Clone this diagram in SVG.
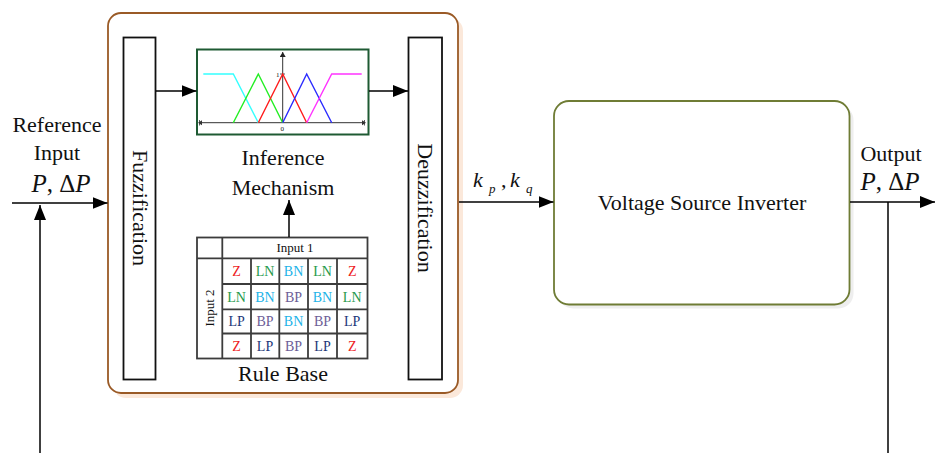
<svg xmlns="http://www.w3.org/2000/svg" width="935" height="453" viewBox="0 0 935 453" font-family="'Liberation Serif','Times New Roman',serif">
<defs>
<marker id="ah" markerUnits="userSpaceOnUse" markerWidth="16" markerHeight="12" refX="15" refY="6" orient="auto">
<path d="M0,0 L15,6 L0,12 z" fill="#000"/>
</marker>
<marker id="sa" markerUnits="userSpaceOnUse" markerWidth="6" markerHeight="6" refX="5" refY="3" orient="auto">
<path d="M0,0 L5,3 L0,6 z" fill="#222"/>
</marker>
<style>
text{font-family:"Liberation Serif","Times New Roman",serif;}
.t{fill:#111;}
.m{font-size:22px;text-anchor:middle;}
.ln{stroke:#000;stroke-width:1.5;fill:none;}
.blk{fill:#fff;stroke:#111;stroke-width:1.8;}
.grid{stroke:#3c3c3c;stroke-width:1.8;fill:none;}
.c{font-size:14px;text-anchor:middle;}
.Z{fill:#ee1c24;}.LN{fill:#1f9a4c;}.BN{fill:#1bb3e8;}.BP{fill:#6d5d97;}.LP{fill:#1d3779;}
</style>
</defs>
<rect width="935" height="453" fill="#fff"/>

<g id="controller">
<rect x="113" y="18" width="350" height="380" rx="13" fill="#fbe8da"/>
<rect x="108" y="13" width="350" height="380" rx="13" fill="#fff" stroke="#9a5a26" stroke-width="1.8"/>
</g>

<g id="fuzzification">
<rect class="blk" x="123.5" y="37.5" width="32" height="342"/>
<text class="t m" transform="translate(133,208) rotate(90)">Fuzzification</text>
</g>

<g id="deuzzification">
<rect class="blk" x="408.5" y="37.5" width="33.5" height="342"/>
<text class="t m" transform="translate(418,208) rotate(90)">Deuzzification</text>
</g>

<g id="inference">
<rect x="197" y="49.5" width="171.5" height="85" fill="#fff" stroke="#1e5a33" stroke-width="2"/>
<line x1="200" y1="122.7" x2="364" y2="122.7" stroke="#333" stroke-width="1"/>
<path d="M198,122.7 l4,-2.5 v5 z M366,122.7 l-4,-2.5 v5 z" fill="#333"/>
<line x1="199.5" y1="120" x2="199.5" y2="125.5" stroke="#333" stroke-width="0.8"/>
<line x1="364.5" y1="120" x2="364.5" y2="125.5" stroke="#333" stroke-width="0.8"/>
<line x1="282.7" y1="122.7" x2="282.7" y2="52" stroke="#333" stroke-width="1" marker-end="url(#sa)"/>
<line x1="280" y1="74" x2="285" y2="74" stroke="#333" stroke-width="0.8"/>
<text class="t" x="276" y="77" font-size="7">1</text>
<text class="t" x="280.5" y="131" font-size="7">0</text>
<polyline points="203.3,74 233.3,74 258.3,122.7" fill="none" stroke="#33ffff" stroke-width="1.4"/>
<polyline points="233.3,122.7 258.3,74 282.7,122.7" fill="none" stroke="#22ee22" stroke-width="1.4"/>
<polyline points="258.3,122.7 282.7,74 306.7,122.7" fill="none" stroke="#ff1a1a" stroke-width="1.4"/>
<polyline points="282.7,122.7 306.7,74 331.7,122.7" fill="none" stroke="#2a2aff" stroke-width="1.4"/>
<polyline points="306.7,122.7 331.7,74 361.7,74" fill="none" stroke="#ff33ff" stroke-width="1.4"/>
<text class="t m" x="283" y="165" font-size="21">Inference</text>
<text class="t m" x="283" y="195" font-size="21">Mechanism</text>
</g>

<g id="rulebase">
<rect class="grid" x="197" y="237.5" width="170.5" height="121"/>
<line class="grid" x1="222.3" y1="237.5" x2="222.3" y2="358.5"/>
<line class="grid" x1="197" y1="258.3" x2="367.5" y2="258.3"/>
<line class="grid" x1="251" y1="258.3" x2="251" y2="358.5"/>
<line class="grid" x1="279.3" y1="258.3" x2="279.3" y2="358.5"/>
<line class="grid" x1="308" y1="258.3" x2="308" y2="358.5"/>
<line class="grid" x1="337" y1="258.3" x2="337" y2="358.5"/>
<line class="grid" x1="222.3" y1="284" x2="367.5" y2="284"/>
<line class="grid" x1="222.3" y1="309.3" x2="367.5" y2="309.3"/>
<line class="grid" x1="222.3" y1="333.5" x2="367.5" y2="333.5"/>
<text class="t" x="295" y="252" font-size="13" text-anchor="middle">Input 1</text>
<text class="t" transform="translate(213.5,308) rotate(-90)" font-size="13" text-anchor="middle">Input 2</text>
<g class="c">
<text class="Z" x="236.6" y="276">Z</text><text class="LN" x="265" y="276">LN</text><text class="BN" x="293.6" y="276">BN</text><text class="LN" x="322.5" y="276">LN</text><text class="Z" x="352.2" y="276">Z</text>
<text class="LN" x="236.6" y="301.5">LN</text><text class="BN" x="265" y="301.5">BN</text><text class="BP" x="293.6" y="301.5">BP</text><text class="BN" x="322.5" y="301.5">BN</text><text class="LN" x="352.2" y="301.5">LN</text>
<text class="LP" x="236.6" y="326">LP</text><text class="BP" x="265" y="326">BP</text><text class="BN" x="293.6" y="326">BN</text><text class="BP" x="322.5" y="326">BP</text><text class="LP" x="352.2" y="326">LP</text>
<text class="Z" x="236.6" y="351">Z</text><text class="LP" x="265" y="351">LP</text><text class="BP" x="293.6" y="351">BP</text><text class="LP" x="322.5" y="351">LP</text><text class="Z" x="352.2" y="351">Z</text>
</g>
<text class="t m" x="283" y="381">Rule Base</text>
</g>

<g id="vsi">
<rect x="558" y="105" width="295.5" height="203.5" rx="15" fill="#eeeeee"/>
<rect x="554" y="101" width="295.5" height="203.5" rx="15" fill="#fff" stroke="#6f7c35" stroke-width="1.8"/>
<text class="t m" x="702" y="210">Voltage Source Inverter</text>
</g>

<g id="labels">
<text class="t m" x="57" y="132">Reference</text>
<text class="t m" x="57" y="160">Input</text>
<text class="t" x="61" y="192" font-size="25" text-anchor="middle"><tspan font-style="italic">P</tspan>, Δ<tspan font-style="italic">P</tspan></text>
<text class="t m" x="891" y="161">Output</text>
<text class="t" x="890" y="190" font-size="25" text-anchor="middle"><tspan font-style="italic">P</tspan>, Δ<tspan font-style="italic">P</tspan></text>
<text class="t" font-size="22" font-style="italic" x="473" y="187">k</text>
<text class="t" font-size="13" font-style="italic" x="489" y="193">p</text>
<text class="t" font-size="22" x="501" y="187">,</text>
<text class="t" font-size="22" font-style="italic" x="510" y="187">k</text>
<text class="t" font-size="13" font-style="italic" x="526" y="193">q</text>
</g>

<g id="connectors">
<line class="ln" x1="12" y1="203" x2="107.5" y2="203" marker-end="url(#ah)"/>
<line class="ln" x1="40" y1="453" x2="40" y2="205" marker-end="url(#ah)"/>
<line class="ln" x1="156" y1="91" x2="196.5" y2="91" marker-end="url(#ah)"/>
<line class="ln" x1="369" y1="91" x2="408" y2="91" marker-end="url(#ah)"/>
<line class="ln" x1="289" y1="237" x2="289" y2="200" marker-end="url(#ah)"/>
<line class="ln" x1="459" y1="202" x2="553.5" y2="202" marker-end="url(#ah)"/>
<line class="ln" x1="850" y1="202" x2="935" y2="202" marker-end="url(#ah)"/>
<line class="ln" x1="888" y1="202" x2="888" y2="453"/>
</g>
</svg>
